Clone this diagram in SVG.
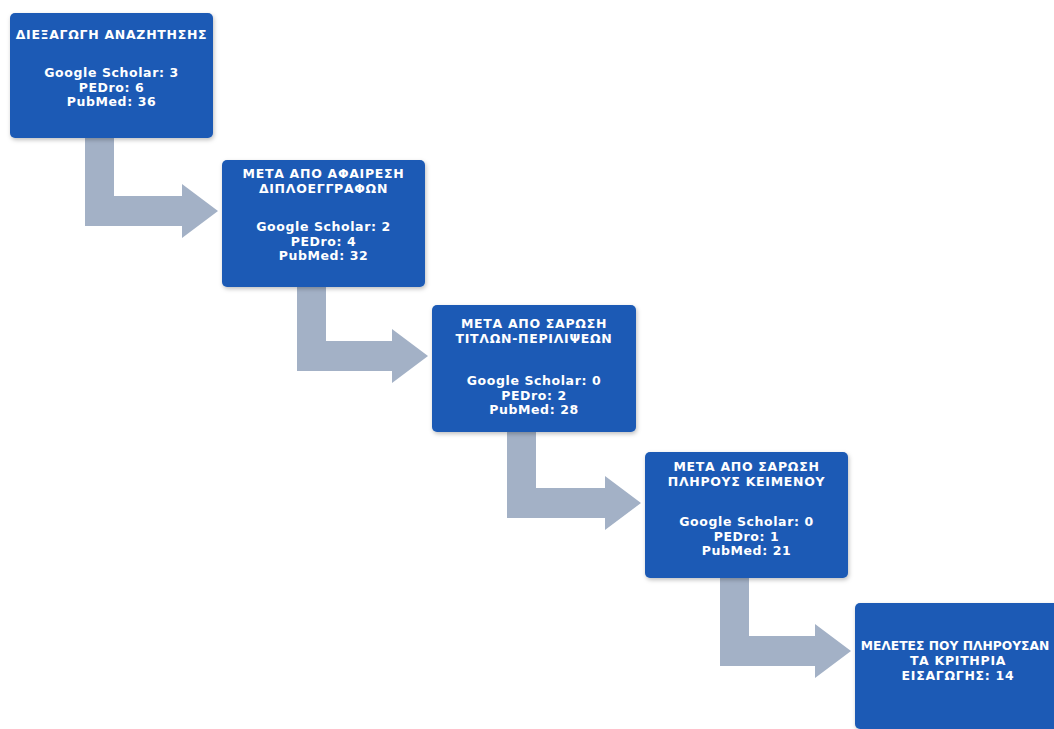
<svg xmlns="http://www.w3.org/2000/svg" width="1054" height="729" viewBox="0 0 1054 729">
<defs>
<filter id="sh" x="-10%" y="-10%" width="120%" height="130%">
<feDropShadow dx="1" dy="2" stdDeviation="2" flood-color="#000" flood-opacity="0.25"/>
</filter>
<style>
.box{fill:#1C5AB5;filter:url(#sh)}
.arr{fill:#A3B1C6}
text{font-family:"DejaVu Sans","Noto Sans",sans-serif;font-weight:bold;fill:#fff;text-anchor:middle}
.t{font-size:12.5px;letter-spacing:0.7px}
.d{font-size:12.5px;letter-spacing:0.6px}
.f{font-size:12.3px}
</style>
</defs>
<rect width="1054" height="729" fill="#fff"/>
<g id="connectors">
<path class="arr" d="M85,138 H114 V196 H182 V184 L218,211 L182,238 V226 H85 Z"/>
<path class="arr" d="M297,287 H326 V341 H392 V329 L428,356 L392,383 V371 H297 Z"/>
<path class="arr" d="M507,432 H536 V488 H605 V476 L641,503 L605,530 V518 H507 Z"/>
<path class="arr" d="M720,578 H749 V636 H815 V624 L851,651 L815,678 V666 H720 Z"/>
</g>
<g id="n1">
<rect class="box" x="10" y="13" width="203" height="125" rx="5"/>
<text class="t" x="111.5" y="39">ΔΙΕΞΑΓΩΓΗ ΑΝΑΖΗΤΗΣΗΣ</text>
<text class="d" x="111.5" y="77">Google Scholar: 3</text>
<text class="d" x="111.5" y="91.6">PEDro: 6</text>
<text class="d" x="111.5" y="106.2">PubMed: 36</text>
</g>
<g id="n2">
<rect class="box" x="222" y="160" width="203" height="127" rx="5"/>
<text class="t" x="323.5" y="178">ΜΕΤΑ ΑΠΟ ΑΦΑΙΡΕΣΗ</text>
<text class="t" x="323.5" y="193">ΔΙΠΛΟΕΓΓΡΑΦΩΝ</text>
<text class="d" x="323.5" y="231">Google Scholar: 2</text>
<text class="d" x="323.5" y="245.6">PEDro: 4</text>
<text class="d" x="323.5" y="260.2">PubMed: 32</text>
</g>
<g id="n3">
<rect class="box" x="432" y="305" width="204" height="127" rx="5"/>
<text class="t" x="534" y="328">ΜΕΤΑ ΑΠΟ ΣΑΡΩΣΗ</text>
<text class="t" x="534" y="343">ΤΙΤΛΩΝ-ΠΕΡΙΛΙΨΕΩΝ</text>
<text class="d" x="534" y="385">Google Scholar: 0</text>
<text class="d" x="534" y="399.6">PEDro: 2</text>
<text class="d" x="534" y="414.2">PubMed: 28</text>
</g>
<g id="n4">
<rect class="box" x="645" y="452" width="203" height="126" rx="5"/>
<text class="t" x="746.5" y="471">ΜΕΤΑ ΑΠΟ ΣΑΡΩΣΗ</text>
<text class="t" x="746.5" y="486">ΠΛΗΡΟΥΣ ΚΕΙΜΕΝΟΥ</text>
<text class="d" x="746.5" y="526">Google Scholar: 0</text>
<text class="d" x="746.5" y="540.6">PEDro: 1</text>
<text class="d" x="746.5" y="555.2">PubMed: 21</text>
</g>
<g id="n5">
<rect class="box" x="855" y="603" width="206" height="126" rx="5"/>
<text class="f" x="955" y="650">ΜΕΛΕΤΕΣ ΠΟΥ ΠΛΗΡΟΥΣΑΝ</text>
<text class="t" x="958" y="665">ΤΑ ΚΡΙΤΗΡΙΑ</text>
<text class="t" x="958" y="680">ΕΙΣΑΓΩΓΗΣ: 14</text>
</g>
</svg>
